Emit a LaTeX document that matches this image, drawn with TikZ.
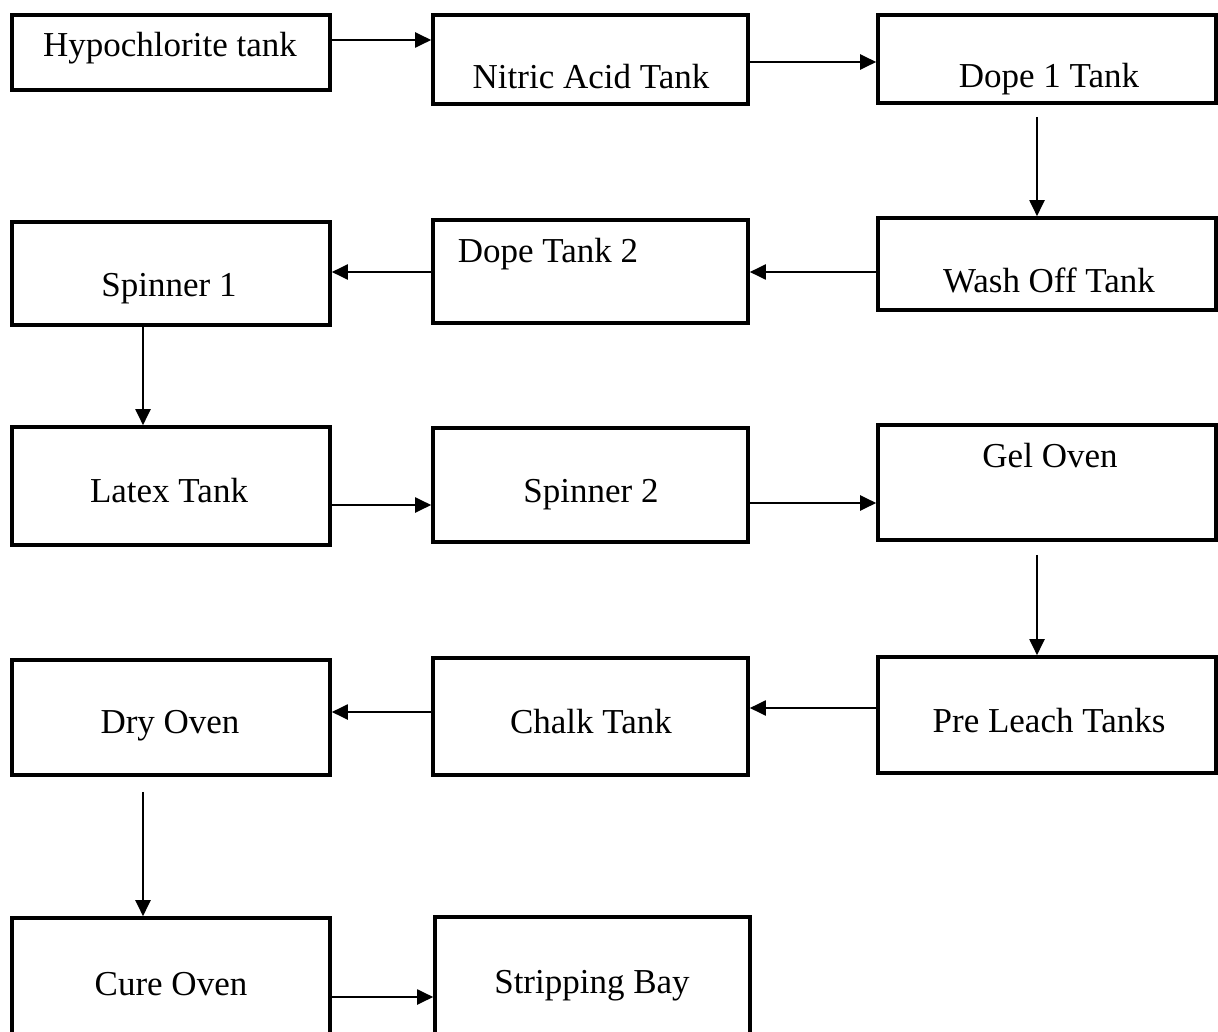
\documentclass[tikz,border=0pt]{standalone}
\usepackage{fontspec}
\setmainfont{Liberation Serif}
\usetikzlibrary{arrows.meta}
\newcommand{\bx}[5]{\node[box, minimum width={(#4-#2)*1pt}, minimum height={(#5-#3)*1pt}] (#1) at ({(#2+#4)/2},{(#3+#5)/2}) {};}
\begin{document}
\begin{tikzpicture}[x=1pt,y=-1pt,
  box/.style={draw=black, line width=3.6pt, inner sep=0pt, fill=none},
  lbl/.style={font=\fontsize{35}{40}\selectfont, inner sep=0pt, anchor=base},
  arr/.style={draw=black, line width=2pt, -{Triangle[length=16pt,width=15pt]}}]
\clip (0,0) rectangle (1218,1032);
\fill[white] (0,0) rectangle (1218,1032);
% boxes
\bx{hypo}{12}{15}{330}{90}
\bx{nitric}{433}{15}{748}{104}
\bx{dopeone}{878}{15}{1216}{103}
\bx{spinone}{12}{222}{330}{325}
\bx{dopetwo}{433}{220}{748}{323}
\bx{wash}{878}{218}{1216}{310}
\bx{latex}{12}{427}{330}{545}
\bx{spintwo}{433}{428}{748}{542}
\bx{gel}{878}{425}{1216}{540}
\bx{dry}{12}{660}{330}{775}
\bx{chalk}{433}{658}{748}{775}
\bx{preleach}{878}{657}{1216}{773}
\bx{cure}{12}{918}{330}{1060}
\bx{strip}{435}{917}{750}{1060}
% labels
\node[lbl] (thypo) at (170,57) {Hypochlorite tank};
\node[lbl] (tnitric) at (591,89) {Nitric Acid Tank};
\node[lbl] (tdopeone) at (1049,88) {Dope 1 Tank};
\node[lbl] (tspinone) at (169,297) {Spinner 1};
\node[lbl] (tdopetwo) at (548,263) {Dope Tank 2};
\node[lbl] (twash) at (1049,293) {Wash Off Tank};
\node[lbl] (tlatex) at (169,502) {Latex Tank};
\node[lbl] (tspintwo) at (591,502) {Spinner 2};
\node[lbl] (tgel) at (1050,467) {Gel Oven};
\node[lbl] (tdry) at (170,733) {Dry Oven};
\node[lbl] (tchalk) at (591,733) {Chalk Tank};
\node[lbl] (tpreleach) at (1049,732) {Pre Leach Tanks};
\node[lbl] (tcure) at (171,995) {Cure Oven};
\node[lbl] (tstrip) at (592,993) {Stripping Bay};
% connectors
\draw[arr] (hypo.east |- 0,40) -- (nitric.west |- 0,40);
\draw[arr] (nitric.east |- 0,62) -- (dopeone.west |- 0,62);
\draw[arr] ([yshift=-12pt]dopeone.south -| 1037,0) -- (wash.north -| 1037,0);
\draw[arr] (wash.west |- 0,272) -- (dopetwo.east |- 0,272);
\draw[arr] (dopetwo.west |- 0,272) -- (spinone.east |- 0,272);
\draw[arr] (spinone.south -| 143,0) -- (latex.north -| 143,0);
\draw[arr] (latex.east |- 0,505) -- (spintwo.west |- 0,505);
\draw[arr] (spintwo.east |- 0,503) -- (gel.west |- 0,503);
\draw[arr] ([yshift=-13pt]gel.south -| 1037,0) -- (preleach.north -| 1037,0);
\draw[arr] (preleach.west |- 0,708) -- (chalk.east |- 0,708);
\draw[arr] (chalk.west |- 0,712) -- (dry.east |- 0,712);
\draw[arr] ([yshift=-15pt]dry.south -| 143,0) -- (cure.north -| 143,0);
\draw[arr] (cure.east |- 0,997) -- (strip.west |- 0,997);
\end{tikzpicture}
\end{document}
